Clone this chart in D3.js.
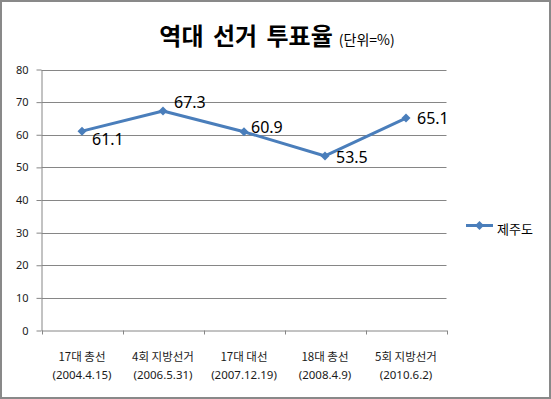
<!DOCTYPE html>
<html>
<head>
<meta charset="utf-8">
<script src="https://cdn.jsdelivr.net/npm/d3@7"></script>
<style>
  body { margin: 0; background: #fff; }
  text { font-family: "Noto Sans CJK KR", "Noto Sans", sans-serif; }
</style>
</head>
<body>
<div id="chart"></div>
<script>
// Data
const elections = ['17대 총선', '4회 지방선거', '17대 대선', '18대 총선', '5회 지방선거'];
const electionDates = ['(2004.4.15)', '(2006.5.31)', '(2007.12.19)', '(2008.4.9)', '(2010.6.2)'];
const jejuTurnout = [61.1, 67.3, 60.9, 53.5, 65.1];
const yTicks = [0, 10, 20, 30, 40, 50, 60, 70, 80];
const seriesName = '제주도';

// Layout
const W = 551, H = 399;
const plot = { left: 41.5, right: 446.5, top: 69.5, bottom: 330.5 };
const lineColor = '#4a7ebb';
const gridColor = '#868686';
// manual label nudges (dx, dy) like the hand-placed labels in the original
const labelNudge = [[10, 14], [11, -3], [7, 1], [11, 7], [11, 6]];

const svg = d3.select('#chart').append('svg')
    .attr('width', W)
    .attr('height', H);

svg.append('rect')
    .attr('x', 1).attr('y', 1)
    .attr('width', W - 2).attr('height', H - 2)
    .attr('fill', '#fff')
    .attr('stroke', '#898989')
    .attr('stroke-width', 2);

const x = d3.scaleBand()
    .domain(elections)
    .range([plot.left, plot.right]);

const y = d3.scaleLinear()
    .domain([0, 80])
    .range([plot.bottom, plot.top]);

// Gridlines
svg.append('g')
    .selectAll('line')
    .data(yTicks.filter(d => d > 0))
    .join('line')
    .attr('x1', plot.left).attr('x2', plot.right)
    .attr('y1', d => Math.round(y(d)) + 0.5).attr('y2', d => Math.round(y(d)) + 0.5)
    .attr('stroke', gridColor);

// Y axis
const yAxis = svg.append('g')
    .attr('transform', `translate(${plot.left},0)`)
    .call(d3.axisLeft(y).tickValues(yTicks).tickSize(5).tickPadding(8).tickSizeOuter(0));
yAxis.select('.domain').attr('stroke', gridColor);
yAxis.selectAll('.tick line').attr('stroke', gridColor);
yAxis.selectAll('.tick text')
    .style('font-family', '"Noto Sans", sans-serif')
    .style('font-size', '11px')
    .attr('fill', '#1a1a1a');

// X axis
const xAxis = svg.append('g')
    .attr('transform', `translate(0,${plot.bottom})`)
    .call(d3.axisBottom(x).tickSize(0).tickFormat(''));
xAxis.select('.domain').attr('stroke', gridColor);
xAxis.selectAll('.tick').remove();

const bounds = elections.map(d => x(d)).concat([plot.right]);
xAxis.selectAll('line.sep')
    .data(bounds)
    .join('line')
    .attr('class', 'sep')
    .attr('x1', d => Math.round(d) + 0.5).attr('x2', d => Math.round(d) + 0.5)
    .attr('y1', 0).attr('y2', 4)
    .attr('stroke', gridColor);

const catLabels = svg.append('g');
elections.forEach((name, i) => {
    const cx = x(name) + x.bandwidth() / 2;
    catLabels.append('text')
        .attr('x', cx).attr('y', 361)
        .attr('text-anchor', 'middle')
        .style('font-size', '11.5px')
        .attr('fill', '#1a1a1a')
        .text(name);
    catLabels.append('text')
        .attr('x', cx).attr('y', 379)
        .attr('text-anchor', 'middle')
        .style('font-family', '"Noto Sans", sans-serif')
        .style('font-size', '11.5px')
        .attr('fill', '#1a1a1a')
        .text(electionDates[i]);
});

// Line
const line = d3.line()
    .x((d, i) => x(elections[i]) + x.bandwidth() / 2)
    .y(d => y(d));

svg.append('path')
    .datum(jejuTurnout)
    .attr('d', line)
    .attr('fill', 'none')
    .attr('stroke', lineColor)
    .attr('stroke-width', 3)
    .attr('stroke-linejoin', 'round');

const diamond = 'M0,-4.5L4.5,0L0,4.5L-4.5,0Z';

svg.append('g')
    .selectAll('path')
    .data(jejuTurnout)
    .join('path')
    .attr('transform', (d, i) => `translate(${x(elections[i]) + x.bandwidth() / 2},${y(d)})`)
    .attr('d', diamond)
    .attr('fill', lineColor);

// Data labels
svg.append('g')
    .selectAll('text')
    .data(jejuTurnout)
    .join('text')
    .attr('x', (d, i) => x(elections[i]) + x.bandwidth() / 2 + labelNudge[i][0])
    .attr('y', (d, i) => y(d) + labelNudge[i][1])
    .style('font-family', '"Noto Sans", sans-serif')
    .style('font-size', '16px')
    .attr('fill', '#000')
    .text(d => d.toFixed(1));

// Legend
const legend = svg.append('g').attr('transform', 'translate(466,225.5)');
legend.append('line')
    .attr('x1', 0).attr('x2', 27)
    .attr('stroke', lineColor)
    .attr('stroke-width', 3);
legend.append('path')
    .attr('transform', 'translate(13.5,0)')
    .attr('d', diamond)
    .attr('fill', lineColor);
legend.append('text')
    .attr('x', 31).attr('y', 8)
    .style('font-size', '13px')
    .attr('fill', '#000')
    .text(seriesName);

// Title
const title = svg.append('text')
    .attr('x', 277).attr('y', 45)
    .attr('text-anchor', 'middle')
    .attr('fill', '#000');
title.append('tspan')
    .style('font-size', '24px')
    .style('font-weight', 'bold')
    .style('word-spacing', '4px')
    .text('역대 선거 투표율');
title.append('tspan')
    .attr('dx', 6)
    .style('font-size', '14px')
    .text('(단위=%)');
</script>
</body>
</html>
